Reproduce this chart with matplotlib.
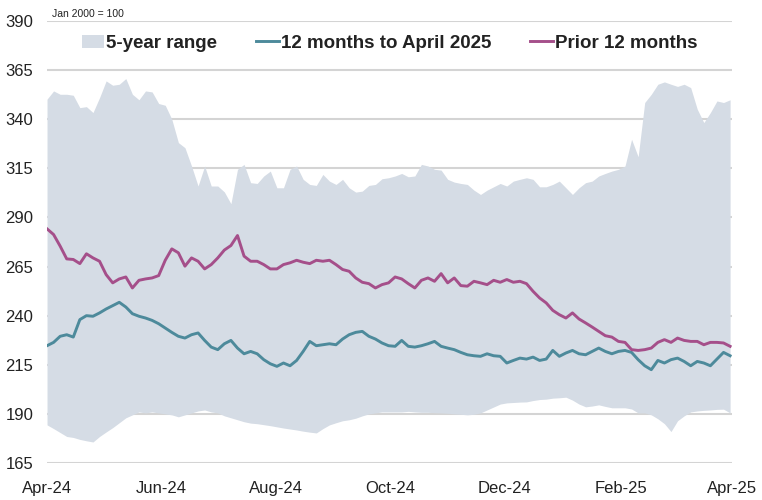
import matplotlib
matplotlib.use("Agg")
import matplotlib.pyplot as plt
import matplotlib.dates as mdates
import pandas as pd

# twice-weekly points, Apr-24 to Apr-25 (index, Jan 2000 = 100)
dates = pd.date_range("2024-04-01", periods=105, freq="84h")

range_hi = [350.2, 354.4, 352.7, 352.7, 352.2, 345.9, 346.4, 343.4, 351.0, 359.5,
            357.3, 357.8, 360.7, 352.7, 349.9, 354.4, 353.9, 348.0, 347.1, 340.0,
            328.1, 325.5, 316.2, 306.0, 316.2, 306.0, 306.0, 303.0, 297.0, 314.5,
            317.0, 307.7, 307.3, 311.1, 313.6, 305.1, 305.1, 314.5, 316.2, 309.4,
            306.8, 306.3, 311.9, 308.5, 306.8, 309.4, 305.1, 302.9, 303.4, 306.3,
            306.8, 309.7, 310.2, 311.1, 312.4, 310.7, 311.1, 317.0, 316.2, 314.5,
            314.1, 309.4, 308.0, 307.3, 306.8, 303.9, 301.7, 303.9, 305.6, 307.3,
            306.0, 308.5, 309.4, 310.2, 309.4, 305.6, 305.6, 306.8, 308.5, 305.1,
            301.7, 305.1, 307.7, 308.5, 311.1, 312.4, 313.6, 314.5, 316.2, 329.8,
            320.9, 348.5, 352.7, 357.8, 359.0, 357.8, 356.7, 357.8, 356.1, 345.1,
            338.3, 343.4, 349.3, 348.5, 349.9]
range_lo = [184.4, 182.5, 180.5, 178.5, 178.0, 177.0, 176.3, 175.7, 178.5, 180.8,
            183.0, 185.5, 188.0, 189.5, 191.0, 190.5, 191.0, 190.5, 190.0, 189.5,
            188.5, 189.5, 190.5, 191.5, 192.0, 191.0, 190.5, 189.0, 188.0, 187.0,
            186.0, 185.3, 185.0, 184.5, 184.0, 183.4, 182.8, 182.3, 181.8, 181.2,
            180.7, 180.3, 182.5, 184.4, 185.5, 186.5, 187.0, 187.8, 189.0, 190.0,
            190.5, 191.0, 191.0, 191.0, 191.0, 191.3, 191.0, 190.8, 190.8, 190.6,
            190.5, 190.3, 190.0, 189.8, 189.5, 189.8, 190.5, 192.0, 193.5, 195.0,
            195.6, 195.8, 196.0, 196.1, 196.8, 197.3, 197.5, 198.0, 198.2, 198.5,
            197.0, 195.0, 193.6, 194.0, 194.6, 193.8, 193.1, 193.1, 193.1, 192.5,
            190.5, 190.5, 189.5, 187.5, 185.0, 181.0, 186.5, 189.0, 191.0, 191.5,
            191.8, 192.0, 192.3, 192.4, 190.5]
last_12m = [224.7, 226.4, 229.5, 230.3, 229.1, 238.0, 240.0, 239.7, 241.4, 243.4,
            245.1, 246.8, 244.4, 241.0, 239.7, 238.8, 237.6, 235.9, 233.7, 231.5,
            229.5, 228.6, 230.3, 231.2, 227.4, 224.0, 222.7, 225.7, 227.4, 223.5,
            220.6, 221.8, 220.6, 217.6, 215.5, 214.2, 215.9, 214.5, 217.2, 221.8,
            226.9, 224.7, 225.2, 225.7, 225.2, 228.1, 230.3, 231.5, 232.0, 229.5,
            228.1, 226.1, 224.7, 224.4, 227.4, 224.4, 224.0, 224.7, 225.7, 226.9,
            224.4, 223.5, 222.7, 221.3, 220.1, 219.6, 219.3, 220.6, 219.6, 219.3,
            215.9, 217.2, 218.4, 217.9, 218.9, 217.2, 217.9, 222.3, 219.3, 221.0,
            222.3, 220.6, 220.1, 221.8, 223.5, 221.8, 220.6, 221.8, 222.3, 221.3,
            217.6, 214.5, 212.5, 217.2, 215.9, 217.6, 218.4, 216.7, 214.5, 216.7,
            215.9, 214.5, 217.9, 221.3, 219.6]
prior_12m = [284.2, 281.3, 275.4, 268.9, 268.6, 266.5, 271.5, 269.4, 267.7, 260.9,
             256.7, 258.7, 259.7, 254.1, 258.0, 258.7, 259.2, 260.4, 268.2, 274.0,
             272.0, 265.2, 269.4, 267.7, 263.8, 266.0, 269.4, 273.4, 275.7, 280.8,
             270.3, 267.7, 267.7, 266.0, 263.8, 263.8, 266.0, 266.9, 268.2, 267.2,
             266.5, 268.2, 267.7, 268.2, 266.0, 263.5, 262.6, 259.2, 257.0, 256.3,
             254.1, 255.8, 256.7, 259.7, 258.7, 256.3, 254.1, 258.0, 259.2, 257.5,
             261.4, 256.7, 259.2, 255.3, 255.0, 257.5, 256.7, 255.8, 258.0, 257.0,
             258.4, 257.0, 257.5, 256.3, 252.4, 249.0, 246.5, 242.7, 240.5, 238.8,
             241.4, 238.3, 236.3, 234.2, 232.0, 229.8, 229.1, 226.9, 226.4, 222.7,
             222.3, 222.7, 223.5, 226.4, 227.8, 226.4, 228.6, 227.4, 226.9, 226.9,
             225.2, 226.4, 226.4, 226.1, 224.4]

yticks = [165, 190, 215, 240, 265, 290, 315, 340, 365, 390]

plt.rcParams["font.family"] = ["Liberation Sans", "DejaVu Sans"]

fig = plt.figure(figsize=(7.62, 5), dpi=100)
ax = fig.add_axes([0.0617, 0.074, 0.8989, 0.884])

ax.fill_between(dates, range_lo, range_hi, color="#d5dce5", lw=0,
                label="5-year range", zorder=2)
ax.plot(dates, last_12m, color="#4d8a9b", lw=2.1, label="12 months to April 2025", zorder=3)
ax.plot(dates, prior_12m, color="#a54f8a", lw=2.1, label="Prior 12 months", zorder=3)

ax.set_ylim(165, 390)
ax.set_yticks(yticks)
ax.set_xlim(pd.Timestamp("2024-04-01"), pd.Timestamp("2025-04-01"))
ax.xaxis.set_major_locator(mdates.MonthLocator(bymonth=[2, 4, 6, 8, 10, 12]))
ax.xaxis.set_major_formatter(mdates.DateFormatter("%b-%y"))

ax.grid(axis="y", color="#d4d4d4", lw=1.5, zorder=1)
ax.set_axisbelow(True)
for s in ax.spines.values():
    s.set_visible(False)
ax.tick_params(axis="both", length=0, labelsize=12, labelcolor="#222222")
ax.tick_params(axis="y", pad=10)
ax.tick_params(axis="x", pad=13)

ax.text(0.007, 1.005, "Jan 2000 = 100", transform=ax.transAxes, fontsize=7.5,
        ha="left", va="bottom", color="#222222")

leg = ax.legend(loc="center", bbox_to_anchor=(0.5, 0.95), ncol=3, frameon=False,
                prop={"weight": "bold", "size": 13.5}, handlelength=1.2,
                handletextpad=0.1, columnspacing=2.1)
for t in leg.get_texts():
    t.set_color("#222222")

plt.savefig("out.png")
